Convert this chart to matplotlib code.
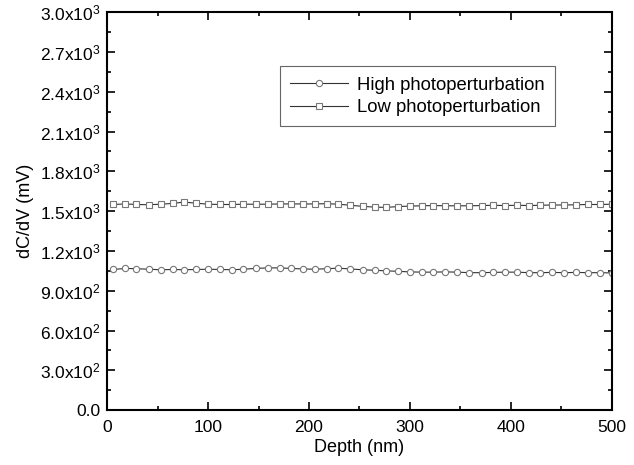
import matplotlib
matplotlib.use('Agg')
import matplotlib.pyplot as plt
from matplotlib.ticker import MultipleLocator, FixedLocator

plt.rcParams['font.family'] = ['Liberation Sans', 'DejaVu Sans']
plt.rcParams['mathtext.fontset'] = 'custom'
plt.rcParams['mathtext.rm'] = 'Liberation Sans'

# depth (nm)
depth = [6, 18, 29, 41, 53, 65, 76, 88, 100, 112, 124, 135, 147, 159, 171, 182,
         194, 206, 218, 229, 241, 253, 265, 276, 288, 300, 312, 323, 335, 347,
         359, 371, 382, 394, 406, 418, 429, 441, 453, 465, 476, 488, 500]

# dC/dV (mV)
high = [1060, 1068, 1066, 1062, 1058, 1060, 1058, 1060, 1062, 1060, 1058, 1062,
        1068, 1072, 1072, 1068, 1064, 1062, 1066, 1070, 1064, 1058, 1054, 1050,
        1046, 1042, 1040, 1040, 1042, 1040, 1036, 1036, 1038, 1040, 1040, 1036,
        1036, 1038, 1036, 1038, 1036, 1036, 1034]
low = [1550, 1554, 1550, 1548, 1552, 1558, 1568, 1560, 1552, 1550, 1550, 1552,
       1552, 1552, 1554, 1554, 1554, 1554, 1556, 1552, 1544, 1536, 1530, 1528,
       1534, 1538, 1540, 1542, 1540, 1540, 1540, 1542, 1544, 1542, 1544, 1542,
       1544, 1546, 1546, 1548, 1550, 1550, 1552]

yticks = [0, 300, 600, 900, 1200, 1500, 1800, 2100, 2400, 2700, 3000]
ytick_labels = ['0.0', r'$\mathrm{3.0x10^{2}}$', r'$\mathrm{6.0x10^{2}}$',
                r'$\mathrm{9.0x10^{2}}$', r'$\mathrm{1.2x10^{3}}$',
                r'$\mathrm{1.5x10^{3}}$', r'$\mathrm{1.8x10^{3}}$',
                r'$\mathrm{2.1x10^{3}}$', r'$\mathrm{2.4x10^{3}}$',
                r'$\mathrm{2.7x10^{3}}$', r'$\mathrm{3.0x10^{3}}$']

fig = plt.figure(figsize=(6.34, 4.65), dpi=100)
ax = fig.add_axes([0.169, 0.118, 0.796, 0.856])

ax.plot(depth, high, '-o', color='#333333', lw=0.8, markersize=4.5,
        markerfacecolor='white', markeredgecolor='#777777', markeredgewidth=0.8,
        label='High photoperturbation')
ax.plot(depth, low, '-s', color='#333333', lw=0.8, markersize=4.2,
        markerfacecolor='white', markeredgecolor='#777777', markeredgewidth=0.8,
        label='Low photoperturbation')

ax.set_xlim(0, 500)
ax.set_ylim(0, 3000)
ax.xaxis.set_major_locator(MultipleLocator(100))
ax.xaxis.set_minor_locator(MultipleLocator(50))
ax.yaxis.set_major_locator(FixedLocator(yticks))
ax.yaxis.set_minor_locator(MultipleLocator(150))
ax.set_yticklabels(ytick_labels)

ax.tick_params(which='both', direction='in', top=True, right=True, width=1.2,
               labelsize=12.5, colors='black')
ax.tick_params(which='major', length=6)
ax.tick_params(which='minor', length=3)
ax.tick_params(axis='x', pad=7)
ax.tick_params(axis='y', pad=5)
for s in ax.spines.values():
    s.set_linewidth(1.5)

ax.set_xlabel('Depth (nm)', fontsize=13, labelpad=3)
ax.set_ylabel('dC/dV (mV)', fontsize=13, labelpad=4)

leg = ax.legend(loc='upper left', bbox_to_anchor=(0.442, 0.857),
                bbox_transform=fig.transFigure, fontsize=13.3, fancybox=False,
                edgecolor='#666666', framealpha=1, handlelength=3.1,
                borderpad=0.55, labelspacing=0.3, handletextpad=0.5,
                borderaxespad=0)
leg.get_frame().set_linewidth(0.8)

fig.savefig('out.png', dpi=100)
